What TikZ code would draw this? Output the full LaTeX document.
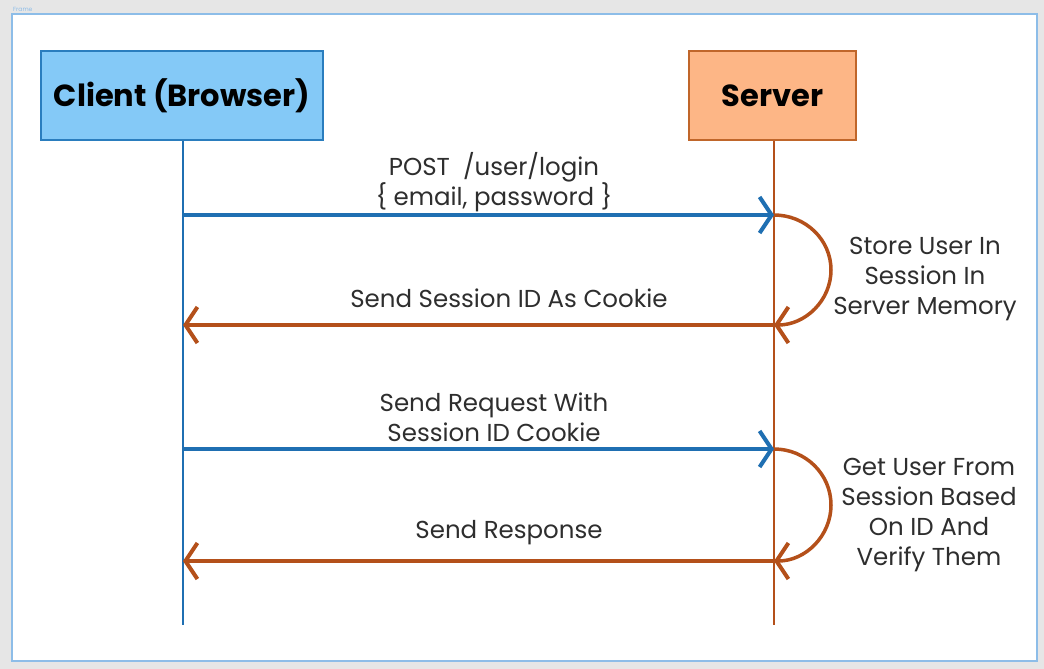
\documentclass[tikz,border=0pt]{standalone}
\usepackage{fontspec}
\setmainfont{Poppins}
\usetikzlibrary{arrows.meta}
\definecolor{pagegrey}{HTML}{E6E6E6}
\definecolor{frameblue}{HTML}{8DBDE8}
\definecolor{clientfill}{HTML}{84C9F7}
\definecolor{clientline}{HTML}{2A7DBE}
\definecolor{serverfill}{HTML}{FDB686}
\definecolor{serverline}{HTML}{C0662A}
\definecolor{reqblue}{HTML}{1F6FB2}
\definecolor{resbrown}{HTML}{B4501A}
\definecolor{txt}{HTML}{2E2E2E}
\begin{document}
\begin{tikzpicture}[x=1pt,y=-1pt,
  actor/.style={draw,line width=2pt,minimum height=89pt,inner sep=0pt,
    font=\fontsize{30.5}{34}\selectfont\bfseries,text=black},
  lifeline/.style={line width=2.2pt},
  chev/.style={-{Straight Barb[length=12pt,width=36pt,line width=4pt]}},
  msg/.style={line width=3.5pt,chev},
  lbl/.style={font=\fontsize{24.5}{30}\selectfont,text=txt,align=center,inner sep=0pt},
]
\useasboundingbox (0,0) rectangle (1044,669);
\fill[pagegrey] (0,0) rectangle (1044,669);
\draw[frameblue,line width=2.5pt,fill=white] (12,14) rectangle (1037,661);
\node[anchor=south west,inner sep=0pt,text=frameblue,font=\fontsize{6}{6}\selectfont] (frametag) at (13,12) {Frame};

% actors
\node[actor,fill=clientfill,draw=clientline,minimum width=282pt] (client) at (182,95.5) {Client (Browser)};
\node[actor,fill=serverfill,draw=serverline,minimum width=167pt] (server) at (772.5,95.5) {Server};

% lifelines
\coordinate (cend) at (183,625);
\coordinate (send) at (774,625);
\draw[lifeline,reqblue] (client.south -| cend) -- (cend);
\draw[lifeline,resbrown] (server.south -| send) -- (send);

% message anchor points on the lifelines
\coordinate (c1) at (183,215); \coordinate (s1) at (774,215);
\coordinate (c2) at (183,325); \coordinate (s2) at (774,325);
\coordinate (c3) at (183,449); \coordinate (s3) at (774,449);
\coordinate (c4) at (183,561); \coordinate (s4) at (774,561);

% login exchange
\draw[msg,reqblue] (c1) -- (s1);
\draw[msg,resbrown] (s1) arc[start angle=90,end angle=-90,x radius=57pt,y radius=55pt];
\draw[msg,resbrown] (s2) -- (c2);
\node[lbl] (l1) at (494,182) {POST\ \ /user/login\\\{ email, password \}};
\node[lbl] (l2) at (509,298) {Send Session ID As Cookie};
\node[lbl] (n1) at (925,279) {Store User In\\Session In\\Server Memory};

% authenticated request
\draw[msg,reqblue] (c3) -- (s3);
\draw[msg,resbrown] (s3) arc[start angle=90,end angle=-90,x radius=57pt,y radius=56pt];
\draw[msg,resbrown] (s4) -- (c4);
\node[lbl] (l3) at (494,417) {Send Request With\\Session ID Cookie};
\node[lbl] (l4) at (509,533) {Send Response};
\node[lbl] (n2) at (929,515) {Get User From\\Session Based\\On ID And\\Verify Them};
\end{tikzpicture}
\end{document}
